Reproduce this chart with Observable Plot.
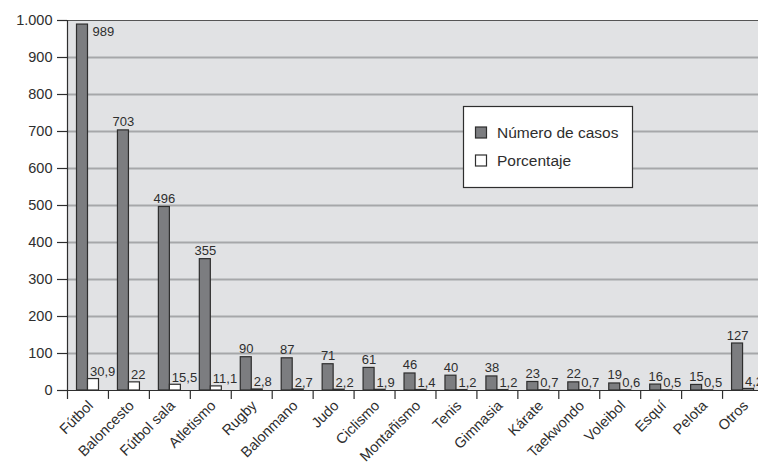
<!DOCTYPE html>
<html>
<head>
<meta charset="utf-8">
<script src="https://cdn.jsdelivr.net/npm/d3@7"></script>
<script src="https://cdn.jsdelivr.net/npm/@observablehq/plot@0.6"></script>
<style>
  html, body { margin: 0; padding: 0; background: white; overflow: hidden; }
  #chart { width: 758px; height: 472px; }
</style>
</head>
<body>
<div id="chart"></div>
<script>
const categories = ["Fútbol","Baloncesto","Fútbol sala","Atletismo","Rugby","Balonmano","Judo","Ciclismo","Montañismo","Tenis","Gimnasia","Kárate","Taekwondo","Voleibol","Esquí","Pelota","Otros"];
const casos = [989,703,496,355,90,87,71,61,46,40,38,23,22,19,16,15,127];
const porcentaje = [30.9,22,15.5,11.1,2.8,2.7,2.2,1.9,1.4,1.2,1.2,0.7,0.7,0.6,0.5,0.5,4.2];
const yTicks = [0,100,200,300,400,500,600,700,800,900,1000];
const seriesNames = ["Número de casos","Porcentaje"];

const data = categories.map((c, i) => ({categoria: c, casos: casos[i], porcentaje: porcentaje[i]}));

const X0 = 67, X1 = 763;
const bw = (X1 - X0) / categories.length;
const dark = "#2e2e2e";
const grayFill = "#7c7d80";
const fmtNum = d => String(d).replace(".", ",");
const fmtTick = d => d3.format(",")(d).replace(",", ".");

const chart = Plot.plot({
  width: 758,
  height: 472,
  marginLeft: 67,
  marginRight: 0,
  marginTop: 20,
  marginBottom: 82,
  x: {domain: categories, range: [X0, X1], padding: 0, round: false, axis: null},
  y: {domain: [0, 1000], axis: null},
  style: {fontFamily: "'Liberation Sans', Arial, sans-serif", background: "white", color: dark},
  marks: [
    Plot.frame({fill: "#e1e2e4", stroke: null}),
    Plot.gridY(yTicks.filter(d => d > 0 && d < 1000), {stroke: "#a6a7a9", strokeWidth: 2, strokeOpacity: 1}),
    Plot.ruleY([1000], {stroke: "#555", strokeWidth: 1.2}),
    Plot.axisY(yTicks, {tickSize: 10, tickPadding: 5, tickFormat: fmtTick, fontSize: 14.5, color: dark, strokeWidth: 1.2}),
    // left border + first category tick
    Plot.ruleX([categories[0]], {x: d => d, y1: -24, y2: 1000, dx: -bw / 2, stroke: dark, strokeWidth: 1.2}),
    // category boundary ticks
    Plot.ruleX(categories.slice(1), {x: d => d, y1: 0, y2: -24, dx: -bw / 2, stroke: dark, strokeWidth: 1.2}),
    // bars
    Plot.barY(data, {x: "categoria", y: "casos", fill: grayFill, stroke: dark, strokeWidth: 1.2, insetLeft: 9.5, insetRight: bw - 20.5}),
    Plot.barY(data, {x: "categoria", y: "porcentaje", fill: "white", stroke: dark, strokeWidth: 1.2, insetLeft: 20.5, insetRight: bw - 31.5}),
    Plot.ruleY([0], {stroke: dark, strokeWidth: 1.2}),
    // value labels
    Plot.text(data.filter(d => d.casos < 950), {x: "categoria", y: "casos", text: d => fmtNum(d.casos), lineAnchor: "bottom", dx: -5.5, dy: -4, fontSize: 13, fill: dark}),
    Plot.text(data.filter(d => d.casos >= 950), {x: "categoria", y: "casos", text: d => fmtNum(d.casos), textAnchor: "start", lineAnchor: "top", dx: 4.5, dy: 2, fontSize: 13, fill: dark}),
    Plot.text(data, {x: "categoria", y: "porcentaje", text: d => fmtNum(d.porcentaje), textAnchor: "start", lineAnchor: "bottom", dx: 2, dy: -3, fontSize: 13, fill: dark}),
    // category labels
    Plot.text(categories, {x: d => d, frameAnchor: "bottom", rotate: -45, textAnchor: "end", dx: 6, dy: 16, fontSize: 14.5, fill: dark})
  ]
});

document.getElementById("chart").appendChild(chart);

// legend inside the plot area
const svg = d3.select(chart);
const lg = svg.append("g")
  .attr("font-family", "'Liberation Sans', Arial, sans-serif")
  .attr("text-anchor", "start");
lg.append("rect").attr("x", 463.5).attr("y", 106.5).attr("width", 169).attr("height", 81)
  .attr("fill", "white").attr("stroke", dark).attr("stroke-width", 1.2);
const fills = [grayFill, "white"];
seriesNames.forEach((name, i) => {
  const cy = 133 + i * 28;
  lg.append("rect").attr("x", 475.5).attr("y", cy - 6).attr("width", 11).attr("height", 11)
    .attr("fill", fills[i]).attr("stroke", dark).attr("stroke-width", 1.2);
  lg.append("text").attr("x", 497).attr("y", cy).attr("dy", "0.35em")
    .attr("text-anchor", "start")
    .style("font-size", "15.5px").attr("fill", dark).text(name);
});
</script>
</body>
</html>
